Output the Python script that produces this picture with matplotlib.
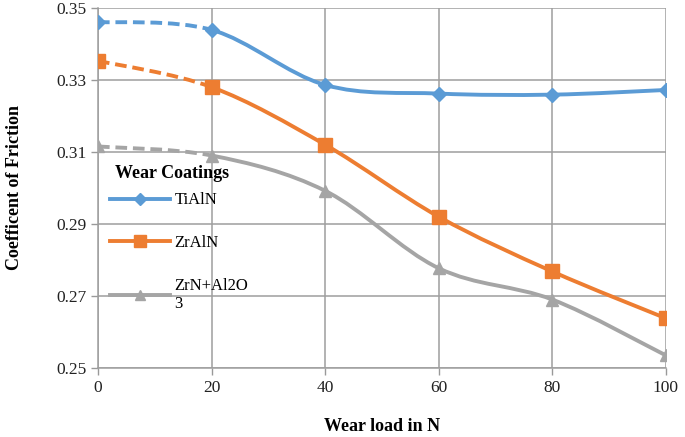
import matplotlib
matplotlib.use("Agg")
import matplotlib.pyplot as plt
from matplotlib.path import Path
from matplotlib.patches import PathPatch
from matplotlib.lines import Line2D

# ---------------------------------------------------------------------------
# Data
# ---------------------------------------------------------------------------
loads = [0, 20, 40, 60, 80, 100]
tialn = [0.3461, 0.3439, 0.3286, 0.3262, 0.3259, 0.3272]
zraln = [0.3353, 0.3280, 0.3120, 0.2920, 0.2768, 0.2638]
zrn_al2o3 = [0.3115, 0.3090, 0.2992, 0.2777, 0.2690, 0.2535]
series_names = ["TiAlN", "ZrAlN", "ZrN+Al2O\n3"]
y_ticks = [0.25, 0.27, 0.29, 0.31, 0.33, 0.35]

COLORS = ["#5B9BD5", "#ED7D31", "#A5A5A5"]
MARKERS = ["D", "s", "^"]
MSIZES = [7.5, 10, 9]

plt.rcParams["font.family"] = ["Liberation Serif", "DejaVu Serif"]


def smooth_segments(xs, ys):
    """Catmull-Rom style cubic Bezier pieces (like Excel's smoothed line)."""
    n = len(xs)
    pieces = []
    for i in range(n - 1):
        x0, y0 = xs[max(i - 1, 0)], ys[max(i - 1, 0)]
        x1, y1 = xs[i], ys[i]
        x2, y2 = xs[i + 1], ys[i + 1]
        x3, y3 = xs[min(i + 2, n - 1)], ys[min(i + 2, n - 1)]
        c1 = (x1 + (x2 - x0) / 6, y1 + (y2 - y0) / 6)
        c2 = (x2 - (x3 - x1) / 6, y2 - (y3 - y1) / 6)
        pieces.append(Path([(x1, y1), c1, c2, (x2, y2)],
                           [Path.MOVETO, Path.CURVE4, Path.CURVE4, Path.CURVE4]))
    return pieces


fig = plt.figure(figsize=(6.85, 4.37), dpi=100)
ax = fig.add_axes([0.143, 0.158, 0.829, 0.824])

for vals, color, mk, ms in zip([tialn, zraln, zrn_al2o3], COLORS, MARKERS, MSIZES):
    for i, p in enumerate(smooth_segments(loads, vals)):
        ax.add_patch(PathPatch(p, fill=False, edgecolor=color, linewidth=2.8,
                               linestyle=(0, (3, 1.5)) if i == 0 else "-",
                               zorder=3, capstyle="butt"))
    ax.plot(loads, vals, linestyle="none", marker=mk, markersize=ms,
            color=color, zorder=4)

ax.set_xlim(0, 100)
ax.set_ylim(0.25, 0.35)
ax.set_xticks(loads)
ax.set_yticks(y_ticks)
ax.set_yticklabels([f"{v:.2f}" for v in y_ticks])
ax.tick_params(labelsize=12.5, colors="#222222", length=5, width=1)
ax.tick_params(axis="both", color="#999999")
ax.grid(color="#9e9e9e", linewidth=1.1)
ax.set_axisbelow(True)
for side in ["top", "right"]:
    ax.spines[side].set_visible(False)
for side in ["left", "bottom"]:
    ax.spines[side].set_color("#9e9e9e")
    ax.spines[side].set_linewidth(1.1)

ax.set_xlabel("Wear load in N", fontsize=13, fontweight="bold", labelpad=16)
ax.set_ylabel("Coefficent of Friction", fontsize=13, fontweight="bold", labelpad=24)

# legend title drawn separately so it sits close to the entries
ax.text(0.03, 0.54, "Wear Coatings", transform=ax.transAxes, fontsize=13,
        fontweight="bold", va="center", ha="left")
handles = [Line2D([], [], color=c, marker=m, markersize=s * 0.8, linewidth=2.8)
           for c, m, s in zip(COLORS, MARKERS, MSIZES)]
ax.legend(handles, series_names, loc="upper left",
          bbox_to_anchor=(0.0, 0.52), frameon=False, fontsize=12,
          handlelength=3.6, labelspacing=1.6, handletextpad=0.3,
          borderaxespad=0.3)

fig.savefig("out.png", dpi=100)
